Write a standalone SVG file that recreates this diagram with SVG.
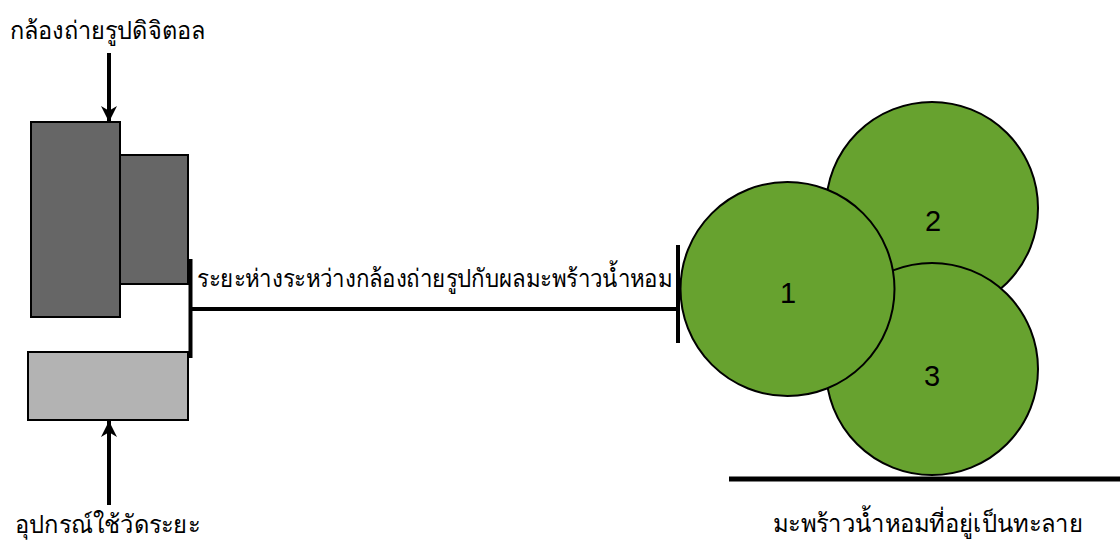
<svg xmlns="http://www.w3.org/2000/svg" width="1120" height="547" viewBox="0 0 1120 547">
  <style>
    .thai { font-family: "Liberation Serif", "DejaVu Serif", serif; font-size: 25px; fill: #000; }
    .num { font-family: "Liberation Sans", Arial, sans-serif; font-size: 29px; fill: #000; text-anchor: middle; }
    .dark { fill: #666666; stroke: #000; stroke-width: 2; }
    .light { fill: #b3b3b3; stroke: #000; stroke-width: 2; }
    .nut { fill: #67a22f; stroke: #000; stroke-width: 2; }
    .bold { stroke: #000; stroke-width: 4; fill: none; }
  </style>
  <defs>
    <marker id="head" viewBox="0 0 10 10" refX="10" refY="5" markerWidth="4" markerHeight="4" markerUnits="strokeWidth" orient="auto">
      <path d="M0,0 L10,5 L0,10 L3,5 Z" fill="#000"/>
    </marker>
  </defs>
  <rect width="1120" height="547" fill="#fff"/>

  <!-- camera body and lens -->
  <g id="camera">
    <rect class="dark" x="31" y="122" width="89" height="195"/>
    <rect class="dark" x="120" y="155" width="68" height="129"/>
  </g>

  <!-- range finder -->
  <g id="rangefinder">
    <rect class="light" x="28" y="352" width="160" height="68"/>
  </g>

  <!-- coconuts, back to front -->
  <g id="coconut-2">
    <circle class="nut" cx="932" cy="208" r="106"/>
    <text class="num" x="933" y="231">2</text>
  </g>
  <g id="coconut-3">
    <circle class="nut" cx="932" cy="369" r="106"/>
    <text class="num" x="932" y="386">3</text>
  </g>
  <g id="coconut-1">
    <circle class="nut" cx="787.5" cy="289" r="107"/>
    <text class="num" x="788" y="303">1</text>
  </g>

  <!-- ground -->
  <g id="ground">
    <line x1="729" y1="479" x2="1120" y2="479" stroke="#000" stroke-width="5"/>
  </g>

  <!-- connectors: callout arrows and distance dimension -->
  <g id="connectors">
    <line class="bold" x1="109" y1="53" x2="109" y2="122" stroke-width="3.5" marker-end="url(#head)"/>
    <line class="bold" x1="109" y1="505" x2="109" y2="421" stroke-width="3.5" marker-end="url(#head)"/>
    <line class="bold" x1="190.5" y1="259" x2="190.5" y2="358"/>
    <line class="bold" x1="192" y1="309" x2="678" y2="309"/>
    <line class="bold" x1="678" y1="245" x2="678" y2="343"/>
  </g>

  <!-- labels -->
  <g id="labels">
    <text class="thai" x="10" y="39" textLength="195" lengthAdjust="spacingAndGlyphs">กล้องถ่ายรูปดิจิตอล</text>
    <text class="thai" x="197" y="287" textLength="475" lengthAdjust="spacingAndGlyphs">ระยะห่างระหว่างกล้องถ่ายรูปกับผลมะพร้าวน้ำหอม</text>
    <text class="thai" x="15" y="533" textLength="185" lengthAdjust="spacingAndGlyphs">อุปกรณ์ใช้วัดระยะ</text>
    <text class="thai" x="773" y="532" textLength="310" lengthAdjust="spacingAndGlyphs">มะพร้าวน้ำหอมที่อยู่เป็นทะลาย</text>
  </g>
</svg>
